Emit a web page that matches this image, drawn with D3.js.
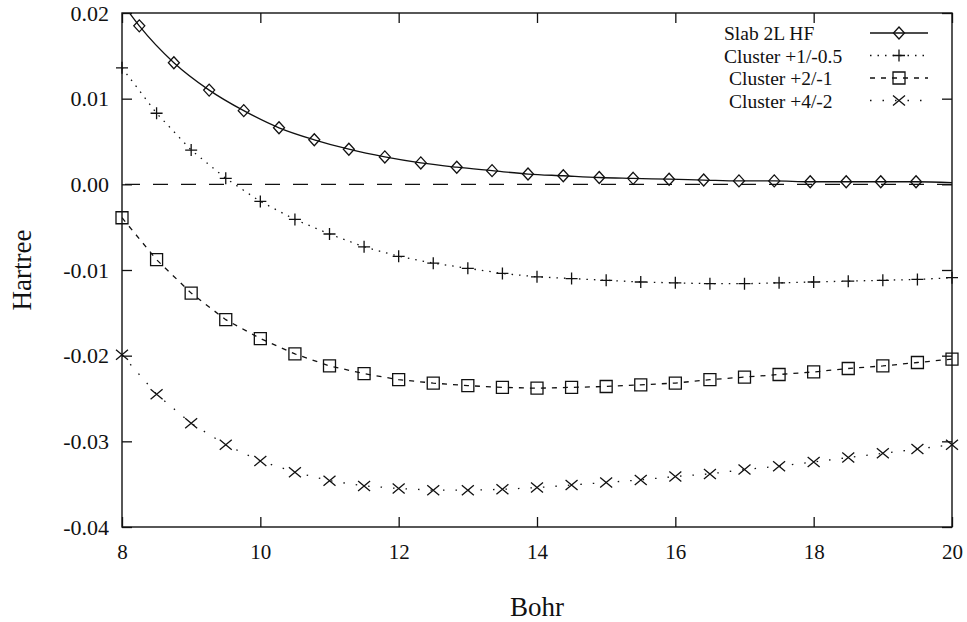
<!DOCTYPE html>
<html>
<head>
<meta charset="utf-8">
<script src="https://cdn.jsdelivr.net/npm/d3@7"></script>
<style>
  html, body { margin: 0; padding: 0; background: #fff; }
  svg { display: block; }
  text { font-family: "Liberation Serif", "Times New Roman", serif; fill: #111; }
</style>
</head>
<body>
<svg id="chart" width="967" height="622"></svg>
<script>
// ---- data ----
const seriesNames = ["Slab 2L HF", "Cluster +1/-0.5", "Cluster +2/-1", "Cluster +4/-2"];

const slabX = [8.25, 8.75, 9.26, 9.76, 10.27, 10.78, 11.28, 11.80, 12.32, 12.84, 13.35, 13.87,
               14.38, 14.90, 15.39, 15.91, 16.41, 16.92, 17.43, 17.95, 18.47, 18.97, 19.48];
const slabY = [0.0185, 0.0142, 0.0110, 0.0086, 0.0066, 0.0052, 0.0041, 0.0032, 0.0025, 0.0020, 0.0016, 0.0012,
               0.0010, 0.0008, 0.0007, 0.0006, 0.0005, 0.0004, 0.0004, 0.0003, 0.0003, 0.0003, 0.0003];
// where the smooth slab curve meets the plot edges
const slabCurveEndX = [8.0, 20.0];
const slabCurveEndY = [0.0212, 0.0002];

const clusterX = [8, 8.5, 9, 9.5, 10, 10.5, 11, 11.5, 12, 12.5, 13, 13.5, 14,
                  14.5, 15, 15.5, 16, 16.5, 17, 17.5, 18, 18.5, 19, 19.5, 20];
const cluster1 = [0.0136, 0.0083, 0.0040, 0.0007, -0.0020, -0.0041, -0.0058, -0.0073, -0.0084, -0.0092, -0.0098, -0.0104, -0.0108,
                  -0.0110, -0.0112, -0.0114, -0.0115, -0.0116, -0.0116, -0.0115, -0.0114, -0.0113, -0.0112, -0.0111, -0.0109];
const cluster2 = [-0.0039, -0.0088, -0.0127, -0.0158, -0.0180, -0.0198, -0.0212, -0.0221, -0.0228, -0.0232, -0.0235, -0.0237, -0.0238,
                  -0.0237, -0.0236, -0.0234, -0.0232, -0.0228, -0.0225, -0.0222, -0.0219, -0.0215, -0.0212, -0.0208, -0.0204];
const cluster4 = [-0.0199, -0.0245, -0.0279, -0.0304, -0.0323, -0.0336, -0.0346, -0.0352, -0.0355, -0.0357, -0.0357, -0.0356, -0.0354,
                  -0.0351, -0.0348, -0.0345, -0.0341, -0.0338, -0.0333, -0.0329, -0.0324, -0.0319, -0.0314, -0.0309, -0.0304];

const xTicks = [8, 10, 12, 14, 16, 18, 20];
const xTickLabels = ["8", "10", "12", "14", "16", "18", "20"];
const yTicks = [0.02, 0.01, 0.00, -0.01, -0.02, -0.03, -0.04];
const yTickLabels = ["0.02", "0.01", "0.00", "-0.01", "-0.02", "-0.03", "-0.04"];
const xTitle = "Bohr";
const yTitle = "Hartree";

// ---- layout ----
const W = 967, H = 622;
const L = 122, R = 952, T = 13, B = 527;
const ink = "#111";

const svg = d3.select("#chart");
const x = d3.scaleLinear().domain([8, 20]).range([L, R]);
const y = d3.scaleLinear().domain([-0.04, 0.02]).range([B, T]);

svg.append("defs").append("clipPath").attr("id", "plotclip")
  .append("rect").attr("x", L).attr("y", T).attr("width", R - L).attr("height", B - T);

// axes (inward ticks on all four sides)
const tick = 10;
const gL = svg.append("g").attr("transform", `translate(${L},0)`)
  .call(d3.axisLeft(y).tickValues(yTicks).tickSize(-tick).tickSizeOuter(0).tickPadding(13)
        .tickFormat((d, i) => yTickLabels[i]));
const gB = svg.append("g").attr("transform", `translate(0,${B})`)
  .call(d3.axisBottom(x).tickValues(xTicks).tickSize(-tick).tickSizeOuter(0).tickPadding(17)
        .tickFormat((d, i) => xTickLabels[i]));
const gR = svg.append("g").attr("transform", `translate(${R},0)`)
  .call(d3.axisRight(y).tickValues(yTicks).tickSize(-tick).tickSizeOuter(0).tickFormat(""));
const gT = svg.append("g").attr("transform", `translate(0,${T})`)
  .call(d3.axisTop(x).tickValues(xTicks).tickSize(-tick).tickSizeOuter(0).tickFormat(""));

[gL, gB, gR, gT].forEach(g => {
  g.select(".domain").remove();
  g.selectAll(".tick line").attr("stroke", ink).attr("stroke-width", 1.3);
  g.selectAll(".tick text").attr("font-family", "Liberation Serif, serif").attr("fill", ink);
});
gL.selectAll(".tick text").attr("font-size", 22);
gB.selectAll(".tick text").attr("font-size", 21);

// frame
svg.append("rect").attr("x", L).attr("y", T).attr("width", R - L).attr("height", B - T)
  .attr("fill", "none").attr("stroke", ink).attr("stroke-width", 1.4);

// axis titles
svg.append("text").attr("x", (L + R) / 2).attr("y", 616).attr("text-anchor", "middle")
  .attr("font-size", 27).text(xTitle);
svg.append("text").attr("transform", "translate(31,270) rotate(-90)").attr("text-anchor", "middle")
  .attr("font-size", 27).text(yTitle);

const plot = svg.append("g").attr("clip-path", "url(#plotclip)");

// zero line
plot.append("line").attr("x1", x(8)).attr("x2", x(20)).attr("y1", y(0)).attr("y2", y(0))
  .attr("stroke", ink).attr("stroke-width", 1.3).attr("stroke-dasharray", "15,13")
  .attr("stroke-dashoffset", -3);

// marker shapes
const markers = {
  diamond: "M0,-6L5.5,0L0,6L-5.5,0Z",
  plus: "M-6,0H6M0,-6V6",
  square: "M-6,-6H6V6H-6Z",
  cross: "M-6,-5L6,5M-6,5L6,-5"
};
const styles = [
  { dash: null, marker: "diamond" },
  { dash: "1.5,6", marker: "plus" },
  { dash: "5,6", marker: "square" },
  { dash: "1.5,11", marker: "cross" }
];

// slab curve (smooth)
const slabPts = [[slabCurveEndX[0], slabCurveEndY[0]]]
  .concat(slabX.map((v, i) => [v, slabY[i]]))
  .concat([[slabCurveEndX[1], slabCurveEndY[1]]]);
const smooth = d3.line().x(d => x(d[0])).y(d => y(d[1])).curve(d3.curveMonotoneX);
plot.append("path").attr("d", smooth(slabPts)).attr("fill", "none")
  .attr("stroke", ink).attr("stroke-width", 1.3);

// cluster lines
const straight = d3.line().x(d => x(d[0])).y(d => y(d[1]));
const clusterSeries = [cluster1, cluster2, cluster4];
clusterSeries.forEach((vals, k) => {
  const pts = clusterX.map((v, i) => [v, vals[i]]);
  plot.append("path").attr("d", straight(pts)).attr("fill", "none")
    .attr("stroke", ink).attr("stroke-width", 1.3)
    .attr("stroke-dasharray", styles[k + 1].dash);
});

// markers
function drawMarkers(xs, ys, type) {
  svg.append("g").selectAll("path").data(xs.map((v, i) => [v, ys[i]])).join("path")
    .attr("transform", d => `translate(${x(d[0])},${y(d[1])})`)
    .attr("d", markers[type]).attr("fill", "none").attr("stroke", ink).attr("stroke-width", 1.3);
}
drawMarkers(slabX, slabY, "diamond");
drawMarkers(clusterX, cluster1, "plus");
drawMarkers(clusterX, cluster2, "square");
drawMarkers(clusterX, cluster4, "cross");

// legend
const legendTop = 40, legendStep = 22.5;
const leg = svg.append("g");
seriesNames.forEach((name, i) => {
  const by = legendTop + i * legendStep;
  leg.append("text").attr("x", i < 2 ? 724 : 729).attr("y", by).attr("font-size", 19.5).text(name);
  const cy = by - 7;
  leg.append("line").attr("x1", 870).attr("x2", 928).attr("y1", cy).attr("y2", cy)
    .attr("stroke", ink).attr("stroke-width", 1.3).attr("stroke-dasharray", styles[i].dash);
  leg.append("path").attr("transform", `translate(899,${cy})`).attr("d", markers[styles[i].marker])
    .attr("fill", "none").attr("stroke", ink).attr("stroke-width", 1.3);
});
</script>
</body>
</html>
